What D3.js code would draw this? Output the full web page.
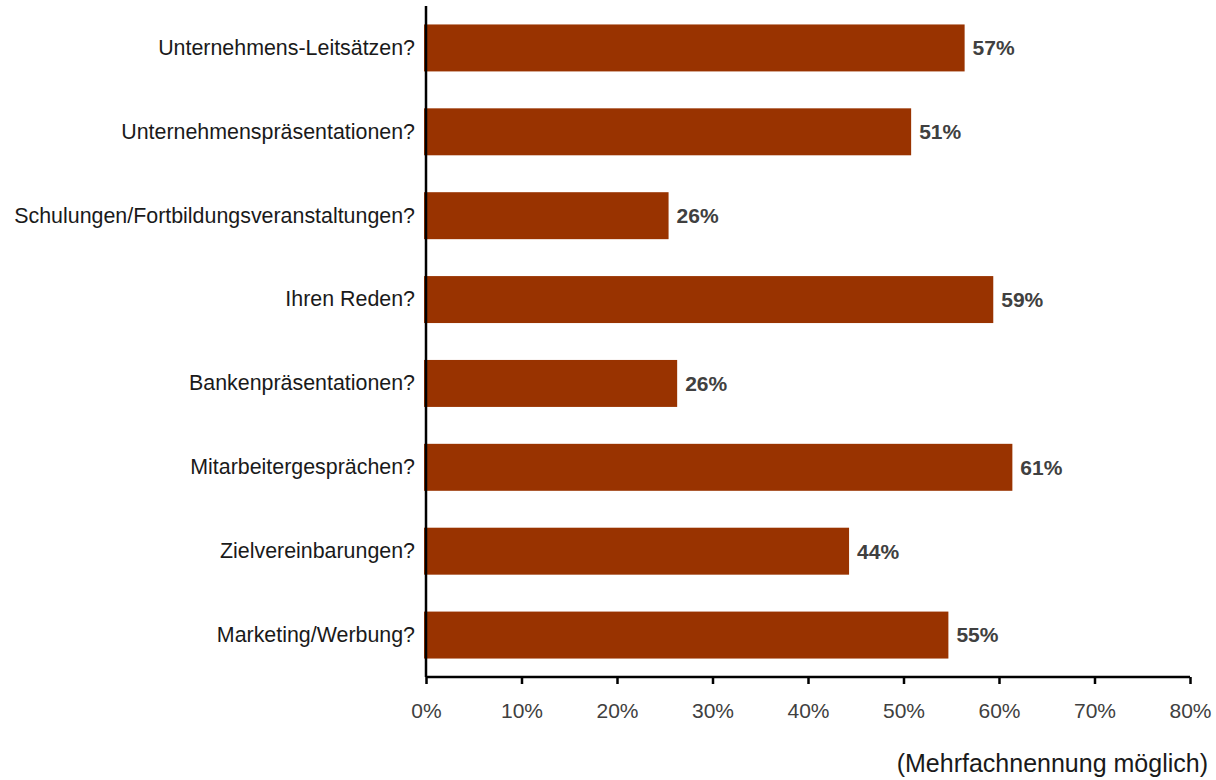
<!DOCTYPE html>
<html>
<head>
<meta charset="utf-8">
<script src="https://cdn.jsdelivr.net/npm/d3@7"></script>
<style>
  body { margin: 0; background: #fff; }
  svg { display: block; }
</style>
</head>
<body>
<div id="chart"></div>
<script>
// categories, top to bottom
const categories = [
  "Unternehmens-Leitsätzen?",
  "Unternehmenspräsentationen?",
  "Schulungen/Fortbildungsveranstaltungen?",
  "Ihren Reden?",
  "Bankenpräsentationen?",
  "Mitarbeitergesprächen?",
  "Zielvereinbarungen?",
  "Marketing/Werbung?"
];
// bar lengths in percent
const values = [56.4, 50.8, 25.4, 59.4, 26.3, 61.4, 44.3, 54.7];
// printed labels
const labels = ["57%", "51%", "26%", "59%", "26%", "61%", "44%", "55%"];
const ticks = [0, 10, 20, 30, 40, 50, 60, 70, 80];
const note = "(Mehrfachnennung möglich)";

const W = 1216, H = 780;
const plotLeft = 426, plotRight = 1190, plotTop = 6, plotBottom = 677;
const font = "Liberation Sans, Arial, sans-serif";

const svg = d3.select("#chart").append("svg")
  .attr("width", W)
  .attr("height", H);

const x = d3.scaleLinear().domain([0, 80]).range([plotLeft, plotRight]);
const y = d3.scaleBand().domain(categories).range([plotTop, plotBottom])
  .paddingInner(0.44).paddingOuter(0.22);

// bars
svg.selectAll("rect.bar")
  .data(categories)
  .enter().append("rect")
  .attr("class", "bar")
  .attr("x", x(0) - 2)
  .attr("y", d => y(d))
  .attr("width", (d, i) => x(values[i]) - x(0) + 2)
  .attr("height", y.bandwidth())
  .attr("fill", "#993300");

// value labels
svg.selectAll("text.val")
  .data(categories)
  .enter().append("text")
  .attr("class", "val")
  .attr("x", (d, i) => x(values[i]) + 8)
  .attr("y", d => y(d) + y.bandwidth() / 2)
  .attr("dy", "0.35em")
  .attr("font-family", font)
  .attr("font-size", 21)
  .attr("font-weight", "bold")
  .attr("fill", "#404040")
  .text((d, i) => labels[i]);

// x axis
const xAxis = svg.append("g")
  .attr("transform", `translate(0,${plotBottom})`)
  .call(d3.axisBottom(x).tickValues(ticks).tickSize(7).tickFormat(d => d + "%"));
xAxis.select(".domain").attr("stroke", "#000").attr("stroke-width", 2.5)
  .attr("d", `M${plotLeft},0H${plotRight}`);
xAxis.selectAll(".tick line").attr("stroke", "#000").attr("stroke-width", 2.5);
xAxis.selectAll(".tick text")
  .attr("y", 26)
  .attr("font-family", font)
  .attr("font-size", 21)
  .attr("fill", "#404040");

// y axis
const yAxis = svg.append("g")
  .attr("transform", `translate(${plotLeft},0)`)
  .call(d3.axisLeft(y).tickSize(0).tickPadding(11));
yAxis.select(".domain").attr("stroke", "#000").attr("stroke-width", 2.5)
  .attr("d", `M0,${plotTop}V${plotBottom}`);
yAxis.selectAll(".tick text")
  .attr("font-family", font)
  .attr("font-size", 21.4)
  .attr("fill", "#1a1a1a");

// footnote
svg.append("text")
  .attr("x", 1208)
  .attr("y", 772)
  .attr("text-anchor", "end")
  .attr("font-family", font)
  .attr("font-size", 25)
  .attr("fill", "#1a1a1a")
  .text(note);
</script>
</body>
</html>
